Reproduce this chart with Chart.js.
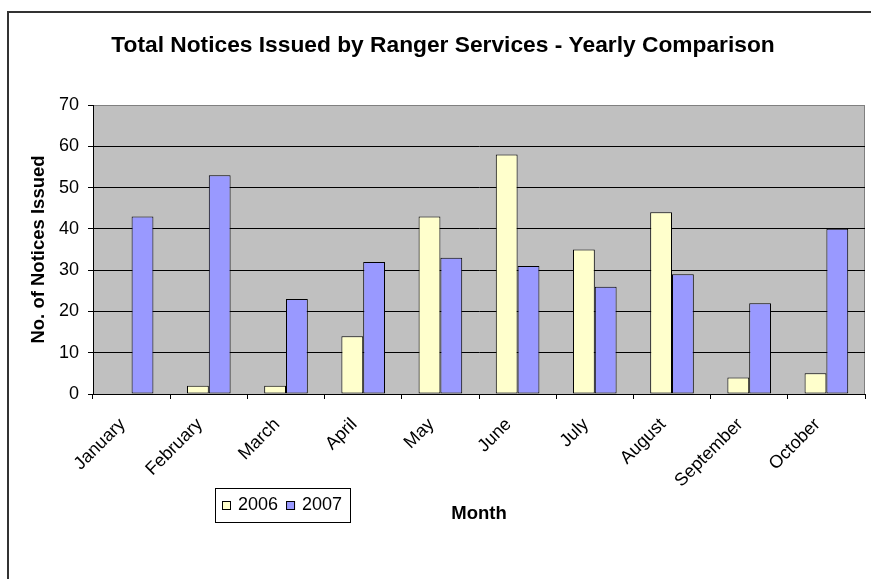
<!DOCTYPE html>
<html>
<head>
<meta charset="utf-8">
<title>Total Notices Issued by Ranger Services</title>
<script src="https://cdn.jsdelivr.net/npm/chart.js@4/dist/chart.umd.min.js"></script>
<style>
  html, body { margin: 0; padding: 0; background: #ffffff; }
  #wrap { width: 871px; height: 579px; }
</style>
</head>
<body>
<div id="wrap"><canvas id="chart" width="871" height="579"></canvas></div>
<script>
// Monthly notice counts for the two years
const months = ['January', 'February', 'March', 'April', 'May', 'June', 'July', 'August', 'September', 'October'];
const notices2006 = [null, 2, 2, 14, 43, 58, 35, 44, 4, 5];
const notices2007 = [43, 53, 23, 32, 33, 31, 26, 29, 22, 40];
const yTicks = [0, 10, 20, 30, 40, 50, 60, 70];
const chartTitle = 'Total Notices Issued by Ranger Services - Yearly Comparison';

const FONT = "'Liberation Sans', Arial, sans-serif";

// Outer frame, grey plot background and plot border
const backdrop = {
  id: 'backdrop',
  beforeDraw(chart) {
    const { ctx, chartArea: a } = chart;
    ctx.save();
    ctx.fillStyle = '#ffffff';
    ctx.fillRect(0, 0, chart.width, chart.height);
    ctx.strokeStyle = '#333333';
    ctx.lineWidth = 2;
    ctx.strokeRect(8, 12, chart.width + 20, chart.height + 20);
    ctx.fillStyle = '#C0C0C0';
    ctx.fillRect(a.left, a.top, a.right - a.left, a.bottom - a.top);
    ctx.strokeStyle = '#808080';
    ctx.lineWidth = 1;
    ctx.beginPath();
    ctx.moveTo(a.left, a.top + 0.5);
    ctx.lineTo(a.right - 0.5, a.top + 0.5);
    ctx.lineTo(a.right - 0.5, a.bottom);
    ctx.stroke();
    // chart heading
    ctx.fillStyle = '#000000';
    ctx.font = 'bold 22.75px ' + FONT;
    ctx.textAlign = 'center';
    ctx.textBaseline = 'alphabetic';
    ctx.fillText(chartTitle, 443, 52);
    ctx.restore();
  }
};

// Boxed legend placed under the plot, left of the axis title
const boxLegend = {
  id: 'boxLegend',
  afterDraw(chart) {
    const { ctx } = chart;
    const x0 = 215, y0 = 488, w = 135, h = 34;
    ctx.save();
    ctx.fillStyle = '#ffffff';
    ctx.fillRect(x0, y0, w, h);
    ctx.strokeStyle = '#000000';
    ctx.lineWidth = 1;
    ctx.strokeRect(x0 + 0.5, y0 + 0.5, w, h);
    ctx.font = '18px ' + FONT;
    ctx.textBaseline = 'middle';
    let x = x0 + 7;
    const cy = y0 + h / 2 + 0.5;
    chart.data.datasets.forEach(ds => {
      ctx.fillStyle = ds.backgroundColor;
      ctx.fillRect(x, cy - 4.5, 9, 9);
      ctx.strokeStyle = '#000000';
      ctx.strokeRect(x + 0.5, cy - 4, 8, 8);
      ctx.fillStyle = '#000000';
      ctx.fillText(ds.label, x + 16, cy);
      x += 16 + ctx.measureText(ds.label).width + 8;
    });
    ctx.restore();
  }
};

new Chart(document.getElementById('chart'), {
  type: 'bar',
  data: {
    labels: months,
    datasets: [
      { label: '2006', data: notices2006, backgroundColor: '#FFFFCC', borderColor: '#000000', borderWidth: 1, borderSkipped: false },
      { label: '2007', data: notices2007, backgroundColor: '#9999FF', borderColor: '#000000', borderWidth: 1, borderSkipped: false }
    ]
  },
  options: {
    responsive: false,
    animation: false,
    devicePixelRatio: 1,
    layout: { padding: { left: 10, right: 6, top: 105, bottom: 0 } },
    datasets: { bar: { categoryPercentage: 0.565, barPercentage: 1.0 } },
    plugins: {
      legend: { display: false },
      tooltip: { enabled: false },
      title: { display: false }
    },
    scales: {
      x: {
        grid: { display: true, drawOnChartArea: false, color: '#000000', tickLength: 5, offset: true },
        border: { display: true, color: '#000000', width: 1 },
        ticks: {
          color: '#000000',
          font: { family: FONT, size: 18 },
          minRotation: 45,
          maxRotation: 45,
          padding: 15,
          labelOffset: -9,
          autoSkip: false
        },
        title: {
          display: true,
          text: 'Month',
          color: '#000000',
          font: { family: FONT, size: 18.5, weight: 'bold' },
          padding: { top: 0, bottom: 54 }
        },
        afterFit(scale) { scale.height = 185; }
      },
      y: {
        min: 0,
        max: 70,
        afterBuildTicks(scale) { scale.ticks = yTicks.map(v => ({ value: v })); },
        grid: {
          color: ctx => (ctx.tick && ctx.tick.value === 70 ? '#808080' : '#000000'),
          tickColor: '#000000',
          tickLength: 5,
          lineWidth: 1
        },
        border: { display: true, color: '#000000', width: 1 },
        ticks: {
          color: '#000000',
          font: { family: FONT, size: 18 },
          padding: 9
        },
        title: {
          display: true,
          text: 'No. of Notices Issued',
          color: '#000000',
          font: { family: FONT, size: 18.5, weight: 'bold' },
          padding: { top: 17.5, bottom: 0 }
        },
        afterFit(scale) { scale.width = 83; }
      }
    }
  },
  plugins: [backdrop, boxLegend]
});
</script>
</body>
</html>
